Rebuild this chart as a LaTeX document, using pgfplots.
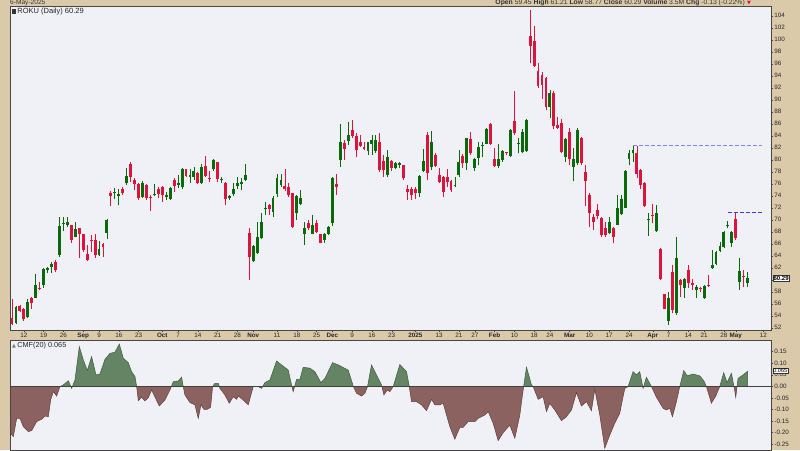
\documentclass[border=0pt]{standalone}
\usepackage{pgfplots}
\pgfplotsset{compat=1.18}
\usepackage{pgfplotstable}
\usepackage{fontspec}
\setmainfont{Liberation Sans}
\newfontfamily\djv{DejaVu Sans}
\definecolor{bgtan}{RGB}{218,202,170}
\definecolor{plotbg}{RGB}{240,240,247}
\definecolor{upcol}{RGB}{10,105,10}
\definecolor{dncol}{RGB}{218,20,60}
\definecolor{cmfup}{RGB}{100,132,100}
\definecolor{cmfupe}{RGB}{60,92,60}
\definecolor{cmfdn}{RGB}{140,98,96}
\definecolor{cmfdne}{RGB}{100,62,62}
\definecolor{dashA}{RGB}{130,130,250}
\definecolor{dashB}{RGB}{60,60,230}
\definecolor{frame}{RGB}{70,70,70}

\pgfplotstableread{
i O H L C
0 53.56 56.8 52.45 52.6
1 52.85 55.6 52.6 55.4
2 55.55 55.8 54.7 54.85
3 55.1 55.3 53.2 53.4
4 53.75 56.8 53.6 56.35
5 56.9 57.2 55.2 56.05
6 57.0 60.9 56.9 59.1
7 58.7 59.7 58.3 58.45
8 59.2 61.9 58.7 61.8
9 61.7 62.2 61.1 61.9
10 62.1 63.0 61.2 62.7
11 63.0 63.3 61.35 61.6
12 64.1 70.5 63.8 69.0
13 69.3 70.5 68.1 69.5
14 69.1 70.5 68.8 69.7
15 69.1 69.2 66.2 66.7
16 67.2 69.7 67.1 68.4
17 68.6 68.7 63.7 67.6
18 67.6 67.7 64.7 64.95
19 64.3 65.8 63.1 63.3
20 66.7 67.45 64.7 66.45
21 66.6 67.7 63.6 64.2
22 64.1 66.45 64.0 65.2
23 65.95 66.2 63.85 65.5
24 67.85 70.1 66.8 69.95
25 74.5 74.8 72.3 74.0
26 74.4 75.3 73.45 74.6
27 74.0 75.2 72.45 74.35
28 75.2 75.5 74.1 74.4
29 76.1 78.7 75.8 77.3
30 79.3 79.55 76.35 77.2
31 76.6 76.9 74.95 75.9
32 75.9 76.2 73.3 73.6
33 73.8 76.45 73.6 76.2
34 75.8 75.9 73.3 73.7
35 73.85 74.1 71.5 73.55
36 74.1 75.9 73.95 74.3
37 75.2 75.5 73.6 74.3
38 75.5 75.6 73.0 74.1
39 73.75 74.7 73.3 74.1
40 73.45 75.5 73.3 75.3
41 76.6 76.9 74.7 75.7
42 75.8 77.4 75.3 76.2
43 75.4 78.6 75.2 78.4
44 78.4 78.5 77.1 77.3
45 77.2 78.5 76.2 77.3
46 77.2 78.8 76.7 78.2
47 77.8 78.0 76.0 76.1
48 76.1 79.3 76.0 78.8
49 78.9 80.6 77.1 77.3
50 76.95 78.1 76.3 76.85
51 78.4 80.1 78.2 80.0
52 79.6 79.7 76.3 76.8
53 76.6 77.2 76.1 76.7
54 76.2 76.3 72.45 73.4
55 73.7 74.1 73.3 73.85
56 74.3 76.1 73.95 75.05
57 75.7 77.2 75.2 76.1
58 75.95 76.9 74.95 76.3
59 76.6 79.3 76.5 77.4
60 67.8 68.6 59.9 63.8
61 63.2 65.8 63.0 65.6
62 64.4 69.7 64.3 67.1
63 66.9 71.2 66.8 69.6
64 71.85 72.95 70.8 71.95
65 72.45 72.7 70.8 71.8
66 71.3 73.95 70.5 73.7
67 74.3 77.7 73.8 77.0
68 75.8 77.6 75.5 76.6
69 75.6 78.4 74.8 75.05
70 75.4 76.2 73.8 74.1
71 74.4 74.5 68.6 68.75
72 71.2 74.1 69.95 73.95
73 72.7 74.95 72.45 73.55
74 67.7 69.7 65.8 68.55
75 69.4 69.95 68.3 68.6
76 67.7 70.8 67.6 69.1
77 69.5 69.95 67.8 68.0
78 67.6 67.7 66.05 66.2
79 66.6 67.85 66.2 67.6
80 67.7 68.95 67.45 68.85
81 69.4 77.2 68.95 77.0
82 75.95 77.6 74.1 75.5
83 79.95 85.95 78.8 82.9
84 82.75 83.3 79.95 81.8
85 83.2 86.3 82.45 84.1
86 84.95 86.6 83.55 83.95
87 83.95 84.4 80.4 81.6
88 82.9 84.1 82.2 82.35
89 82.2 83.0 81.6 81.75
90 81.5 83.0 80.8 82.9
91 82.6 84.2 80.8 83.3
92 81.5 84.2 81.2 83.3
93 82.9 84.4 78.0 78.3
94 79.8 80.8 77.2 78.3
95 77.45 81.7 77.1 80.5
96 79.8 79.95 78.1 78.7
97 78.7 79.7 78.4 79.4
98 79.2 79.7 78.6 79.3
99 79.1 79.2 76.7 76.9
100 75.2 75.8 73.3 74.7
101 75.1 75.4 73.3 74.1
102 75.05 75.4 73.4 74.4
103 74.5 77.45 73.85 77.3
104 78.1 81.8 77.9 79.8
105 84.1 84.7 76.6 77.8
106 78.8 84.8 78.3 82.9
107 80.8 81.2 78.8 79.0
108 77.45 78.6 76.2 76.35
109 77.05 77.3 73.85 74.7
110 77.05 78.4 75.5 76.35
111 76.5 76.6 74.7 74.95
112 75.6 77.05 75.4 75.7
113 77.45 81.6 77.2 79.7
114 80.7 80.9 78.55 79.4
115 79.4 83.7 78.3 83.6
116 83.45 84.7 80.8 81.05
117 78.55 80.3 78.1 80.1
118 80.3 83.0 79.1 82.2
119 82.25 83.0 80.5 82.4
120 82.7 85.35 82.55 85.1
121 85.9 86.2 82.45 82.7
122 80.1 82.0 78.8 79.0
123 79.0 82.55 78.7 80.1
124 79.95 81.7 79.7 81.5
125 81.1 81.3 80.8 81.05
126 80.7 85.1 80.5 84.95
127 86.5 91.45 84.2 84.4
128 82.6 83.55 81.05 82.7
129 81.35 85.1 81.05 84.7
130 81.5 86.78 81.35 86.6
131 100.7 104.95 96.05 99.0
132 99.8 102.3 95.4 95.67
133 94.85 96.2 92.0 92.3
134 94.1 94.7 90.2 92.45
135 93.67 93.8 88.3 88.8
136 88.8 91.6 86.9 91.05
137 91.2 91.45 85.2 85.67
138 85.78 87.2 85.2 85.3
139 86.05 86.8 81.05 81.3
140 80.5 83.55 79.67 83.45
141 84.55 85.35 79.1 80.2
142 78.8 81.9 76.45 80.2
143 79.4 85.35 79.2 84.9
144 83.55 83.8 79.2 79.4
145 78.0 79.2 72.3 76.45
146 74.1 74.4 68.8 71.05
147 70.5 70.9 68.3 69.55
148 71.6 72.55 70.2 70.67
149 70.3 70.5 67.2 67.45
150 68.7 69.67 67.2 67.45
151 67.73 70.5 67.56 69.56
152 68.67 68.83 66.06 67.17
153 69.2 74.2 69.1 71.9
154 70.9 74.2 70.8 73.5
155 72.0 78.3 71.9 78.1
156 80.1 81.6 79.1 81.2
157 81.06 82.3 79.7 81.6
158 81.17 82.3 76.9 77.7
159 78.3 78.45 75.2 75.8
160 76.06 76.3 72.2 72.3
161 69.9 71.06 67.3 70.2
162 70.67 72.7 69.4 70.56
163 68.1 72.45 68.0 71.2
164 65.2 65.3 59.95 60.1
165 57.56 57.7 55.06 55.2
166 53.1 58.0 52.45 57.0
167 61.3 62.45 54.4 54.95
168 54.4 67.17 54.2 63.67
169 59.95 60.1 57.17 59.1
170 58.67 60.3 57.0 60.1
171 61.6 62.45 58.56 59.4
172 59.3 60.2 58.3 59.2
173 58.3 59.1 56.9 58.8
174 58.7 58.8 58.0 58.5
175 56.9 59.1 56.8 59.0
176 59.2 60.8 58.85 59.0
177 61.9 64.9 61.8 62.45
178 62.56 64.8 62.45 64.56
179 64.8 66.3 64.56 65.6
180 65.5 68.1 65.3 68.0
181 68.9 69.8 68.56 69.2
182 66.2 68.1 65.5 68.0
183 70.2 71.2 66.6 67.0
184 59.7 63.56 58.3 61.45
185 60.5 61.6 58.8 60.4
186 59.45 61.21 58.77 60.29
}\ohlc

\pgfplotstableread{
i v
-0.5 -0.200
0.34 -0.217
1.18 -0.138
2.02 -0.138
2.86 -0.174
4.13 -0.195
4.97 -0.191
6.23 -0.152
7.50 -0.142
8.34 -0.128
9.18 -0.131
9.77 -0.059
10.45 -0.023
11.29 -0.042
12.13 -0.001
12.97 0.006
14.24 0.024
15.08 -0.009
15.92 0.027
17.02 0.171
18.03 0.114
19.04 0.068
20.13 0.128
21.23 0.049
22.24 0.053
23.50 0.116
24.77 0.142
26.03 0.147
27.13 0.182
28.14 0.121
29.40 0.102
30.24 0.063
31.09 0.042
31.51 0.000
31.93 -0.062
32.77 -0.047
33.61 -0.063
34.46 -0.049
35.30 -0.016
37.24 -0.085
38.67 -0.059
39.93 -0.016
40.78 0.020
42.04 0.023
42.88 0.039
43.30 -0.001
43.72 -0.037
44.99 -0.070
46.25 -0.080
47.09 -0.138
47.77 -0.080
48.53 -0.099
49.37 -0.099
50.21 -0.091
50.72 -0.001
51.31 0.013
52.15 0.013
52.57 -0.009
53.83 -0.037
54.93 -0.073
55.94 -0.045
56.78 -0.056
57.20 -0.042
58.47 -0.059
59.73 -0.080
60.99 -0.001
62.26 -0.001
63.10 -0.009
63.94 0.016
65.21 0.027
66.89 0.109
68.16 0.092
69.84 0.070
70.68 0.006
71.10 -0.023
71.95 0.030
72.79 0.030
73.63 0.082
75.32 0.078
76.58 0.063
78.10 0.016
79.11 0.034
81.05 0.102
82.48 0.092
85.00 0.070
86.27 0.001
87.11 -0.030
88.37 -0.042
89.22 -0.030
89.89 -0.001
90.90 0.092
92.17 0.049
93.43 0.006
94.02 -0.037
94.86 -0.016
95.53 -0.023
96.38 -0.001
98.06 0.094
99.75 0.063
100.42 0.001
101.01 -0.066
102.27 -0.066
103.54 -0.080
104.80 -0.105
106.07 -0.056
106.91 -0.080
108.17 -0.080
109.01 -0.073
110.70 -0.174
111.96 -0.228
113.23 -0.177
114.07 -0.177
115.33 -0.152
117.02 -0.152
117.86 -0.138
119.54 -0.124
120.39 -0.109
121.65 -0.159
122.92 -0.234
124.18 -0.200
125.86 -0.167
127.13 -0.224
128.39 -0.124
129.23 -0.016
130.08 0.082
131.34 0.006
131.76 -0.001
133.03 -0.056
134.29 -0.045
135.13 -0.109
135.97 -0.073
137.24 -0.102
138.92 -0.148
140.19 -0.131
141.45 -0.102
142.71 -0.027
143.98 -0.085
145.24 -0.066
146.50 -0.105
147.35 -0.013
148.61 -0.124
149.87 -0.267
151.14 -0.210
152.40 -0.159
153.66 -0.116
154.93 -0.009
155.77 -0.001
157.03 0.063
157.88 0.049
158.72 0.063
159.56 -0.009
160.40 0.039
161.67 -0.001
162.93 -0.047
164.62 -0.095
165.46 -0.102
166.30 -0.095
166.98 -0.131
167.99 -0.066
168.83 -0.001
169.85 0.068
170.69 0.045
172.20 0.053
173.88 0.045
174.90 0.024
175.57 -0.001
176.83 -0.073
177.93 -0.042
178.94 -0.001
179.95 0.059
180.79 0.016
181.89 0.056
182.73 -0.019
182.98 -0.047
183.57 0.034
184.84 0.049
186.00 0.065
}\cmf

\pgfplotsset{
  candle/.style={draw=none, mark=none, forget plot,
    error bars/y dir=plus, error bars/y explicit, error bars/error mark=none},
  tinyfont/.style={font=\fontsize{6.3}{7}\selectfont},
}

\begin{document}
\begin{tikzpicture}[x=1pt,y=1pt]
\useasboundingbox (0,0) rectangle (800,450);
\fill[bgtan] (0,0) rectangle (800,450);
\node[anchor=base west, inner sep=0, font=\fontsize{6.6}{7}\selectfont, text=black!80] at (10,445) {6-May-2025};
\node[anchor=base east, inner sep=0, font=\fontsize{6.8}{7}\selectfont, text=black!80] at (745,445)
  {\textbf{Open} 59.45 \textbf{High} 61.21 \textbf{Low} 58.77 \textbf{Close} 60.29 \textbf{Volume} 3.5M \textbf{Chg} -0.13 (-0.22\%)};
\node[anchor=base west, inner sep=0, font=\djv\fontsize{5}{6}\selectfont, text=dncol] at (747,445.5) {▼};

% ---------------- price panel ----------------
\begin{axis}[
  at={(10pt,120pt)}, anchor=south west, scale only axis,
  width=761pt, height=324pt,
  xmin=-0.506, xmax=191.9, ymin=51.62, ymax=105.62,
  axis background/.style={fill=plotbg},
  axis line style={frame, line width=0.6pt},
  clip mode=individual,
  /pgf/number format/assume math mode=true,
  ytick={52,54,...,104},
  yticklabel pos=right, ytick pos=right,
  minor y tick num=1,
  yticklabel style={tinyfont, anchor=west, inner sep=1.2pt, text=black!85},
  xtick pos=left,
  xtick={3,8,13,18,22,27,32,38,42,47,52,57,61,67,72,77,81,86,91,96,102,108,113,117,122,127,132,136,141,146,151,156,162,166,171,175,180,183,190},
  xticklabels={12,19,26,\textbf{Sep},9,16,23,\textbf{Oct},7,14,21,28,\textbf{Nov},11,18,25,\textbf{Dec},9,16,23,\textbf{2025},13,21,27,\textbf{Feb},10,18,24,\textbf{Mar},10,17,24,\textbf{Apr},7,14,21,28,\textbf{May},12},
  xticklabel style={tinyfont, anchor=north, inner sep=0.8pt, text=black!85},
  major tick length=2pt, minor tick length=1.2pt,
  tick style={frame, line width=0.4pt},
  tick align=outside,
]
% wicks
\addplot[candle, restrict expr to domain={\thisrow{C}-\thisrow{O}}{0:1000},
  error bars/error bar style={draw=upcol, line width=0.8pt}]
  table[x=i, y expr=\thisrow{L}, y error plus expr=\thisrow{H}-\thisrow{L}] {\ohlc};
\addplot[candle, restrict expr to domain={\thisrow{C}-\thisrow{O}}{-1000:-0.00001},
  error bars/error bar style={draw=dncol, line width=0.8pt}]
  table[x=i, y expr=\thisrow{L}, y error plus expr=\thisrow{H}-\thisrow{L}] {\ohlc};
% bodies
\addplot[candle, restrict expr to domain={\thisrow{C}-\thisrow{O}}{0:1000},
  error bars/error bar style={draw=upcol, line width=2.9pt, line cap=butt}]
  table[x=i, y expr={min(\thisrow{O},\thisrow{C})}, y error plus expr={max(abs(\thisrow{C}-\thisrow{O}),0.18)}] {\ohlc};
\addplot[candle, restrict expr to domain={\thisrow{C}-\thisrow{O}}{-1000:-0.00001},
  error bars/error bar style={draw=dncol, line width=2.9pt, line cap=butt}]
  table[x=i, y expr={min(\thisrow{O},\thisrow{C})}, y error plus expr={max(abs(\thisrow{C}-\thisrow{O}),0.18)}] {\ohlc};
% resistance lines
\addplot[dashA, line width=1pt, dash pattern=on 4pt off 2pt] coordinates {(157.1,82.35) (189.7,82.35)};
\addplot[dashB, line width=0.9pt, dash pattern=on 4pt off 2pt] coordinates {(181.0,71.25) (189.7,71.25)};
% labels
\node[anchor=north west, inner sep=0, font=\fontsize{7.5}{8}\selectfont, text=black!85] at ([xshift=2pt,yshift=-2pt]rel axis cs:0,1)
  {\textcolor{black!80}{\rule{4pt}{4.5pt}}\,ROKU (Daily) 60.29};
\node[anchor=west, draw=black!80, fill=white, inner sep=0.8pt, font=\bfseries\fontsize{6}{7}\selectfont, line width=0.4pt] at (axis cs:192.3,60.29) {60.29};
\end{axis}

% ---------------- CMF panel ----------------
\begin{axis}[
  at={(10pt,0pt)}, anchor=south west, scale only axis,
  width=761pt, height=110pt,
  xmin=-0.506, xmax=191.9, ymin=-0.2746, ymax=0.1996,
  axis background/.style={fill=plotbg},
  axis line style={frame, line width=0.6pt},
  clip mode=individual,
  xtick=\empty,
  ytick={-0.25,-0.2,-0.15,-0.1,-0.05,0,0.05,0.1,0.15},
  yticklabel pos=right, ytick pos=right,
  minor y tick num=1,
  /pgf/number format/assume math mode=true,
  /pgf/number format/.cd, fixed, fixed zerofill, precision=2, /pgfplots/.cd,
  yticklabel style={tinyfont, anchor=west, inner sep=1.2pt, text=black!85},
  major tick length=2pt, minor tick length=1.2pt,
  tick style={frame, line width=0.4pt},
  tick align=outside,
]
\addplot[draw=none, forget plot] coordinates {(0,0)};
\node[anchor=north west, inner sep=0, font=\fontsize{7.3}{8}\selectfont, text=black!85] at ([xshift=2pt,yshift=-2pt]rel axis cs:0,1)
  {{\djv\fontsize{5}{6}\selectfont\textcolor{cmfup}{▲}}\,CMF(20) 0.065};
\node[anchor=west, draw=black!80, fill=white, inner sep=0.6pt, font=\fontsize{5.5}{6}\selectfont, line width=0.4pt] at (axis cs:192.3,0.068) {0.065};
\end{axis}

\begin{axis}[
  at={(10pt,63.7pt)}, anchor=south west, scale only axis,
  width=761pt, height=46.3pt,
  xmin=-0.506, xmax=191.9, ymin=0, ymax=0.1996,
  hide axis,
]
\addplot[fill=cmfup, draw=cmfupe, line width=0.5pt] table[x=i, y=v] {\cmf} \closedcycle;
\end{axis}

\begin{axis}[
  at={(10pt,0pt)}, anchor=south west, scale only axis,
  width=761pt, height=63.7pt,
  xmin=-0.506, xmax=191.9, ymin=-0.2746, ymax=0,
  hide axis,
]
\addplot[fill=cmfdn, draw=cmfdne, line width=0.5pt] table[x=i, y=v] {\cmf} \closedcycle;
\end{axis}

\begin{axis}[
  at={(10pt,0pt)}, anchor=south west, scale only axis,
  width=761pt, height=110pt,
  xmin=-0.506, xmax=191.9, ymin=-0.2746, ymax=0.1996,
  axis line style={frame, line width=0.6pt},
  xtick=\empty, ytick=\empty,
]
\addplot[black!75, line width=0.8pt] coordinates {(-0.506,0) (191.9,0)};
\end{axis}
\end{tikzpicture}
\end{document}
